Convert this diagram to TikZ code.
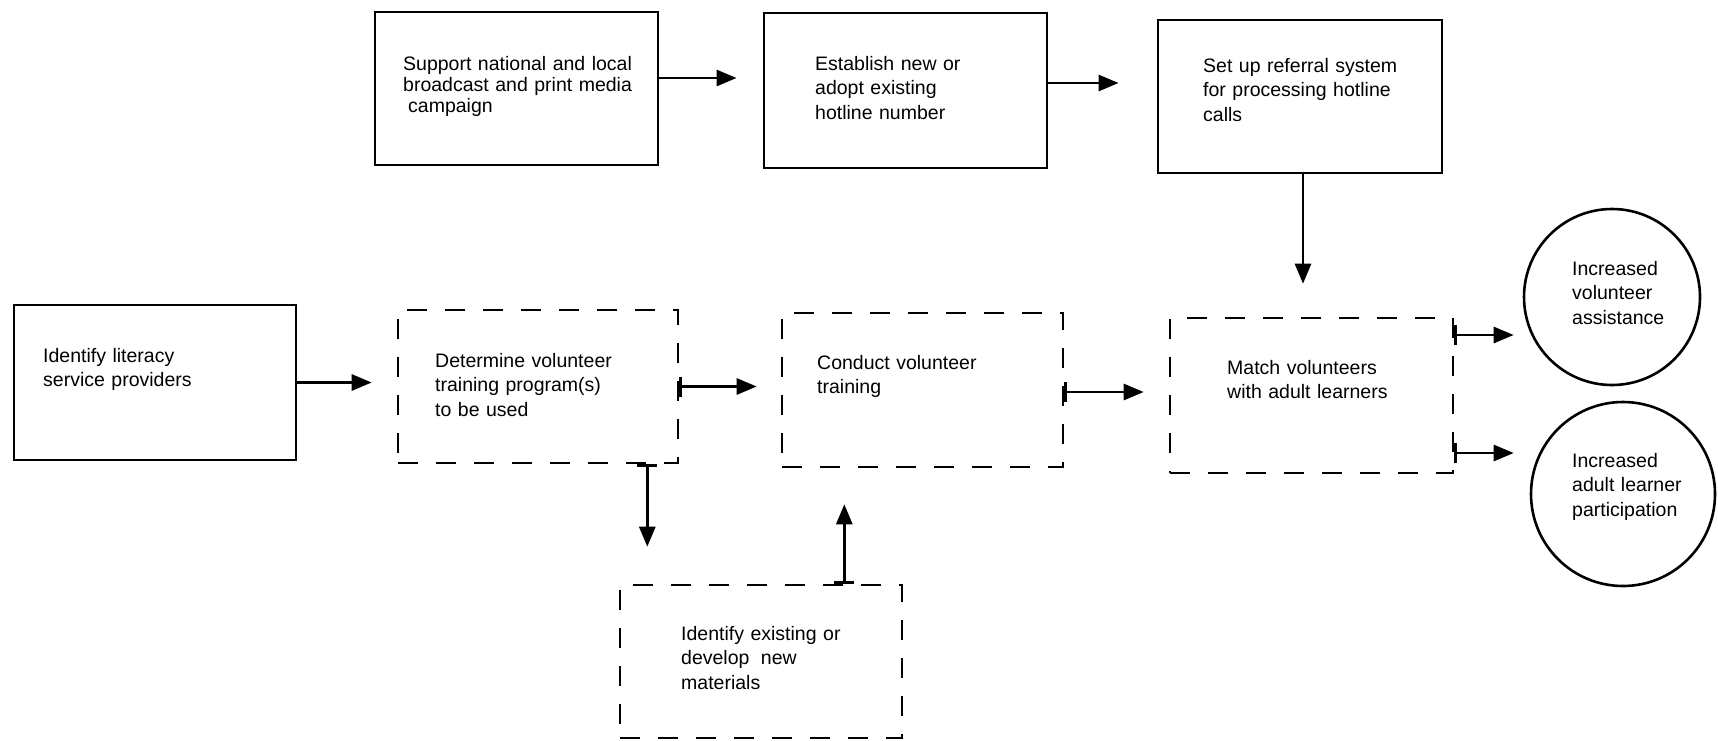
\documentclass[tikz,border=0pt]{standalone}
\usepackage{fontspec}
\setmainfont{Liberation Sans}
\usetikzlibrary{arrows.meta}

\begin{document}
\begin{tikzpicture}[x=1pt, y=-1pt,
	solidbox/.style={draw, line width=2.8pt, inner sep=0pt},
	dashbox/.style={draw, line width=2.6pt, inner sep=0pt, dash pattern=on 20pt off 18pt},
	goal/.style={draw, circle, line width=2.6pt, inner sep=0pt},
	boxtext/.style={anchor=base west, inner sep=0pt, text width=250pt, align=left,
		font=\fontsize{19.5}{24.5}\selectfont},
	link/.style={line width=2.8pt, -{Triangle[length=20pt,width=16pt]}},
	barlink/.style={line width=2.8pt, {Bar[width=20pt]}-{Triangle[length=20pt,width=16pt]}}]
			% We will draw the flow chart here
			\useasboundingbox (0,0) rectangle (1718,740);
			
			% top row
			\node[solidbox, minimum width=283pt, minimum height=153pt] (support) at (516.5,88.5) {};
			\node[boxtext, font=\fontsize{19.5}{21}\selectfont] (support-txt) at (403,70)
				{Support national and local\\broadcast and print media\\\hspace{5pt}campaign};
			\node[solidbox, minimum width=283pt, minimum height=155pt] (hotline) at (905.5,90.5) {};
			\node[boxtext] (hotline-txt) at (815,70) {Establish new or\\adopt existing\\hotline number};
			\node[solidbox, minimum width=284pt, minimum height=153pt] (referral) at (1300,96.5) {};
			\node[boxtext] (referral-txt) at (1203,72) {Set up referral system\\for processing hotline\\calls};
			
			% middle row
			\node[solidbox, minimum width=282pt, minimum height=155pt] (providers) at (155,382.5) {};
			\node[boxtext] (providers-txt) at (43,362) {Identify literacy\\service providers};
			\node[dashbox, minimum width=280pt, minimum height=153pt] (program) at (538,386.5) {};
			\node[boxtext] (program-txt) at (435,367) {Determine volunteer\\training program(s)\\to be used};
			\node[dashbox, minimum width=281pt, minimum height=154pt] (training) at (922.5,390) {};
			\node[boxtext] (training-txt) at (817,369) {Conduct volunteer\\training};
			\node[dashbox, minimum width=283pt, minimum height=155pt] (match) at (1311.5,395.5) {};
			\node[boxtext] (match-txt) at (1227,374) {Match volunteers\\with adult learners};
			
			% bottom box
			\node[dashbox, minimum width=282pt, minimum height=153pt] (materials) at (761,661.5) {};
			\node[boxtext] (materials-txt) at (681,640) {Identify existing or\\develop\hspace{5pt} new\\materials};
			
			% outcomes
			\node[goal, minimum size=176pt] (assist) at (1612,297) {};
			\node[boxtext, text width=140pt] (assist-txt) at (1572,275) {Increased\\volunteer\\assistance};
			\node[goal, minimum size=184pt] (learner) at (1623,494) {};
			\node[boxtext, text width=140pt] (learner-txt) at (1572,467) {Increased\\adult learner\\participation};
			
			% arrows
			\draw[link, shorten >=26pt] ([yshift=10.5pt]support.east) -- ([yshift=10.5pt]support.east -| hotline.west);
			\draw[link, shorten >=38pt] ([yshift=7.5pt]hotline.east) -- ([yshift=7.5pt]hotline.east -| referral.west);
			\draw[link, shorten >=33pt] ([xshift=3pt]referral.south) -- ([xshift=3pt]referral.south |- match.north);
			\draw[link, shorten >=25pt] (providers.east) -- (providers.east -| program.west);
			\draw[barlink, shorten >=24pt] (program.east) -- (program.east -| training.west);
			\draw[barlink, shorten >=25pt] ([yshift=-2pt]training.east) -- ([yshift=-2pt]training.east -| match.west);
			\draw[barlink, shorten >=9pt] ([yshift=60.5pt]match.east) -- ([yshift=60.5pt]match.east -| assist.west);
			\draw[barlink, shorten >=16pt] ([yshift=-57.5pt]match.east) -- ([yshift=-57.5pt]match.east -| learner.west);
			\draw[barlink, shorten >=37pt] ([xshift=-32pt]program.south east) -- ([xshift=-32pt]program.south east |- materials.north);
			\draw[barlink, shorten >=36pt] ([xshift=-59pt]materials.north east) -- ([xshift=-59pt]materials.north east |- training.south);
			
		\end{tikzpicture}
\end{document}
